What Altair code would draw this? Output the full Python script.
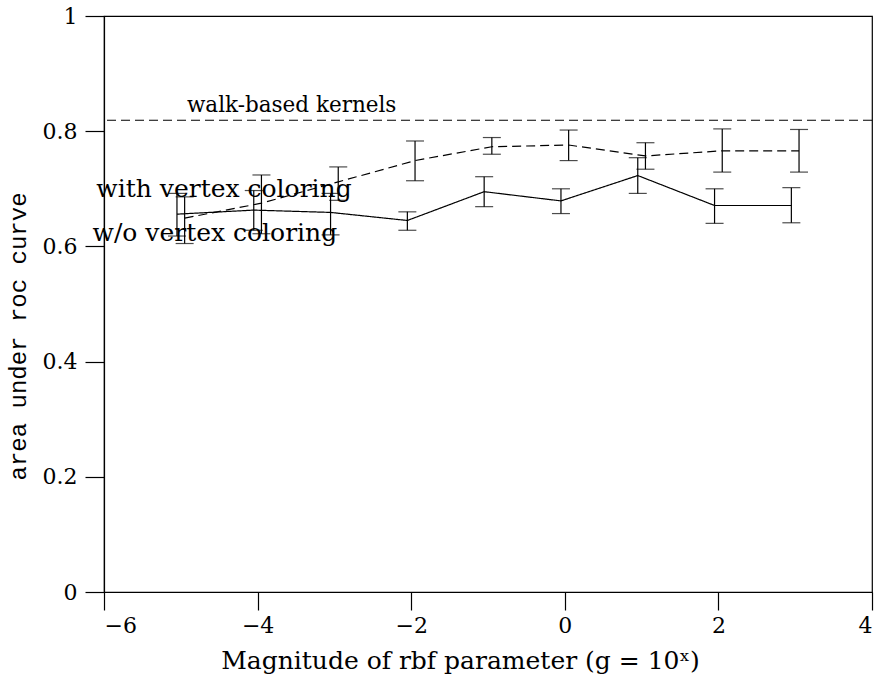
import altair as alt
import pandas as pd

# magnitudes (plotted with small horizontal offsets as in the figure)
x_wo = [-5.05, -4.05, -3.05, -2.05, -1.05, -0.05, 0.95, 1.95, 2.95]
y_wo = [0.656, 0.663, 0.659, 0.645, 0.695, 0.679, 0.723, 0.671, 0.671]
lo_wo = [0.618, 0.628, 0.620, 0.628, 0.669, 0.657, 0.692, 0.640, 0.641]
hi_wo = [0.692, 0.697, 0.692, 0.660, 0.721, 0.700, 0.754, 0.700, 0.702]

x_w = [-4.95, -3.95, -2.95, -1.95, -0.95, 0.05, 1.05, 2.05, 3.05]
y_w = [0.649, 0.675, 0.712, 0.749, 0.773, 0.776, 0.757, 0.766, 0.766]
lo_w = [0.605, 0.622, 0.680, 0.714, 0.760, 0.749, 0.734, 0.729, 0.729]
hi_w = [0.686, 0.724, 0.738, 0.783, 0.789, 0.802, 0.780, 0.804, 0.803]

walk_level = 0.819

label_text = ["walk-based kernels", "with vertex coloring", "w/o vertex coloring"]
label_x = [-4.92, -6.10, -6.15]
label_y = [0.833, 0.685, 0.610]
label_size = [21.5, 25, 25]

FONT = "DejaVu Serif"

wo = pd.DataFrame({"x": x_wo, "y": y_wo, "lo": lo_wo, "hi": hi_wo})
wv = pd.DataFrame({"x": x_w, "y": y_w, "lo": lo_w, "hi": hi_w})
labels = pd.DataFrame({"t": label_text, "x": label_x, "y": label_y, "s": label_size})

xs = alt.Scale(domain=[-6, 4], nice=False, zero=False)
ys = alt.Scale(domain=[0, 1], nice=False)

common_axis = dict(
    grid=False, domainColor="black", tickColor="black", domainWidth=1.2, tickWidth=1.2,
    labelFont=FONT, labelFontSize=22, labelColor="black", titleColor="black",
    titleFontWeight="normal",
)

X = alt.X("x:Q", scale=xs, axis=alt.Axis(
    title="Magnitude of rbf parameter (g = 10ˣ)", values=[-6, -4, -2, 0, 2, 4],
    format="~g", tickSize=18, labelPadding=5, titleX=356, titleY=68,
    titleBaseline="middle", titleAlign="center", titleFont=FONT, titleFontSize=25,
    **common_axis))
Y = alt.Y("y:Q", scale=ys, axis=alt.Axis(
    title="area under roc curve", values=[0, 0.2, 0.4, 0.6, 0.8, 1],
    format="~g", tickSize=19, labelPadding=8, titleX=-86, titleY=320,
    titleAngle=-90, titleBaseline="middle", titleAlign="center",
    titleFont="Liberation Mono", titleFontSize=24, **common_axis))


def series(df, dash):
    line = alt.Chart(df).mark_line(color="black", strokeWidth=1.2, strokeDash=dash).encode(x=X, y=Y)
    bars = alt.Chart(df).mark_rule(color="black", strokeWidth=1.2).encode(x="x:Q", y="lo:Q", y2="hi:Q")
    cap_lo = alt.Chart(df).mark_tick(color="black", orient="horizontal", size=18, thickness=1.2).encode(x="x:Q", y="lo:Q")
    cap_hi = alt.Chart(df).mark_tick(color="black", orient="horizontal", size=18, thickness=1.2).encode(x="x:Q", y="hi:Q")
    return [line, bars, cap_lo, cap_hi]


walk = alt.Chart(pd.DataFrame({"y": [walk_level]})).mark_rule(
    color="black", strokeWidth=1.2, strokeDash=[9, 5]).encode(y=alt.Y("y:Q", scale=ys))

text = alt.Chart(labels).mark_text(
    font=FONT, align="left", baseline="alphabetic", color="black").encode(
    x="x:Q", y="y:Q", text="t:N", size=alt.Size("s:Q", scale=None, legend=None))

chart = alt.layer(
    *series(wo, [1, 0]), *series(wv, [9, 5]), walk, text
).properties(
    width=768, height=576,
    autosize=alt.AutoSizeParams(type="none"),
    padding={"left": 104, "top": 16, "right": 8, "bottom": 92},
    background="white",
).configure_view(
    stroke="black", strokeWidth=1.2
)

chart.save("out.html", embed_options={"renderer": "svg", "actions": False})
